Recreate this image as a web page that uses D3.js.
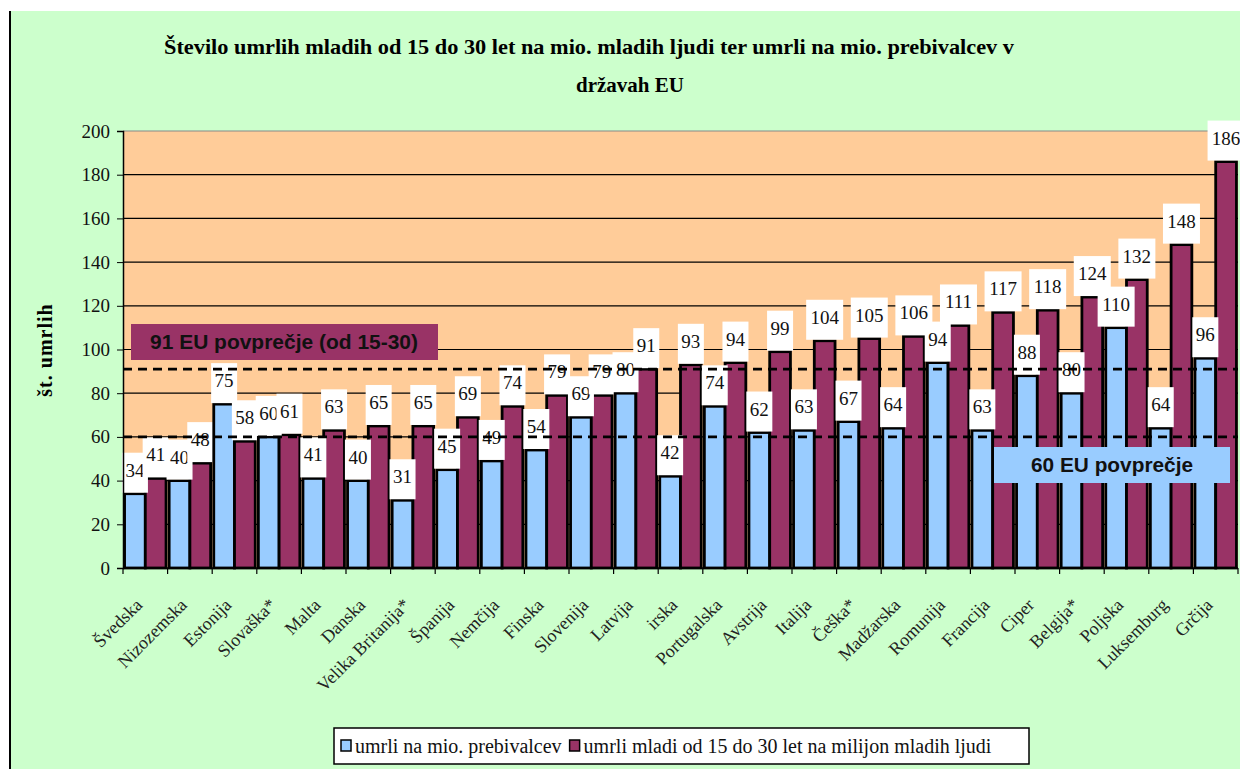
<!DOCTYPE html>
<html>
<head>
<meta charset="utf-8">
<script src="https://cdn.jsdelivr.net/npm/d3@7"></script>
<style>
  body { margin:0; background:#fff; }
</style>
</head>
<body>
<div id="chart"></div>
<script>
// drzave in vrednosti
const countries = ["Švedska","Nizozemska","Estonija","Slovaška*","Malta","Danska","Velika Britanija*","Španija","Nemčija","Finska","Slovenija","Latvija","irska","Portugalska","Avstrija","Italija","Češka*","Madžarska","Romunija","Francija","Ciper","Belgija*","Poljska","Luksemburg","Grčija"]
const perMio   = [34,40,75,60,41,40,31,45,49,54,69,80,42,74,62,63,67,64,94,63,88,80,110,64,96]
const youngMio = [41,48,58,61,63,65,65,69,74,79,79,91,93,94,99,104,105,106,111,117,118,124,132,148,186]
const seriesNames = ["umrli na mio. prebivalcev","umrli mladi od 15 do 30 let na milijon mladih ljudi"]
const yTicks = [0,20,40,60,80,100,120,140,160,180,200]
const avgYoung = 91, avgAll = 60

const SERIF = "Liberation Serif, Times New Roman, serif"
const SANS = "Liberation Sans, Arial, sans-serif"

function render(){
  let width = 1240, height = 769,
      margin = { top:131, left:123, right:2, bottom:201 },
      innerWidth = width - margin.left - margin.right,
      innerHeight = height - margin.top - margin.bottom

  const colors = ["#99CCFF","#993366"]
  const data = countries.map((c,i)=>({country:c, vals:[perMio[i], youngMio[i]]}))

  let svg = d3.select("#chart").append("svg").attr("width",width).attr("height",height)
  svg.append("rect").attr("x",10).attr("y",11).attr("width",width-10).attr("height",height-11).attr("fill","#CCFFCC")
  svg.append("line").attr("x1",10).attr("x2",10).attr("y1",11).attr("y2",height).attr("stroke","#000").attr("stroke-width",2)

  // naslov
  svg.append("text").attr("x",589).attr("y",54).attr("text-anchor","middle")
     .attr("font-family",SERIF).attr("font-size",21).attr("font-weight","bold")
     .attr("textLength",850).attr("lengthAdjust","spacingAndGlyphs")
     .text("Število umrlih mladih od 15 do 30 let na mio. mladih ljudi ter umrli na mio. prebivalcev v")
  svg.append("text").attr("x",630).attr("y",92).attr("text-anchor","middle")
     .attr("font-family",SERIF).attr("font-size",21).attr("font-weight","bold").text("državah EU")

  let xScale = d3.scaleBand().domain(countries).range([0,innerWidth]).paddingInner(0.07).paddingOuter(0.035)
  let xSub = d3.scaleBand().domain([0,1]).range([0,xScale.bandwidth()])
  let yScale = d3.scaleLinear().domain([0,200]).range([innerHeight,0])

  let g = svg.append("g").attr("transform",`translate(${margin.left},${margin.top})`)
  g.append("rect").attr("width",innerWidth).attr("height",innerHeight).attr("fill","#FFCC99")

  // mreza
  g.selectAll(".grid").data(yTicks.slice(1)).enter().append("line")
    .attr("x1",0).attr("x2",innerWidth).attr("y1",d=>yScale(d)).attr("y2",d=>yScale(d))
    .attr("stroke",d=>d===200?"#888":"#000").attr("stroke-width",1.2)

  // stolpci + oznake (po skupinah, da se prekrivajo kot v originalu)
  data.forEach(d=>{
    let gg = g.append("g").attr("transform",`translate(${xScale(d.country)},0)`)
    d.vals.forEach((v,k)=>{
      gg.append("rect").attr("x",xSub(k)).attr("y",yScale(v))
        .attr("width",xSub.bandwidth()).attr("height",innerHeight-yScale(v))
        .attr("fill",colors[k]).attr("stroke","#000").attr("stroke-width",2.8)
    })
    d.vals.forEach((v,k)=>{
      let w = String(v).length>2 ? 37 : 26
      let cx = xSub(k)+xSub.bandwidth()/2
      gg.append("rect").attr("x",cx-w/2).attr("y",yScale(v)-41).attr("width",w).attr("height",40).attr("fill","#fff")
      gg.append("text").attr("x",cx).attr("y",yScale(v)-17).attr("text-anchor","middle")
        .attr("font-family",SERIF).attr("font-size",19).attr("fill","#111").text(v)
    })
  })

  // povprecja
  ;[avgYoung,avgAll].forEach(a=>{
    g.append("line").attr("x1",0).attr("x2",innerWidth).attr("y1",yScale(a)).attr("y2",yScale(a))
     .attr("stroke","#000").attr("stroke-width",2.6).attr("stroke-dasharray","9,6")
  })

  // osi
  let yAxis = d3.axisLeft(yScale).tickValues(yTicks).tickSize(6).tickPadding(7)
  let ya = g.append("g").call(yAxis).attr("font-family",SERIF).attr("font-size",19)
  ya.select(".domain").attr("stroke","#000").attr("stroke-width",1.5)
  ya.selectAll("text").attr("fill","#111")

  let xa = g.append("g").attr("transform",`translate(0,${innerHeight})`)
  xa.append("line").attr("x1",0).attr("x2",innerWidth).attr("stroke","#000").attr("stroke-width",1.5)
  let step = innerWidth/countries.length
  xa.selectAll(".tk").data(d3.range(countries.length+1)).enter().append("line")
    .attr("x1",i=>i*step).attr("x2",i=>i*step).attr("y1",0).attr("y2",6).attr("stroke","#000").attr("stroke-width",1.2)
  xa.selectAll(".lbl").data(countries).enter().append("g")
    .attr("transform",d=>`translate(${xScale(d)+xScale.bandwidth()/2-2},38) rotate(-45)`)
    .append("text").attr("text-anchor","end")
    .attr("font-family",SERIF).attr("font-size",18).attr("fill","#222").text(d=>d)

  // os y naslov
  svg.append("g").attr("transform","translate(52,350) rotate(-90)")
     .append("text").attr("text-anchor","middle")
     .attr("font-family",SERIF).attr("font-size",20).attr("font-weight","bold").attr("letter-spacing",1).text("št. umrlih")

  // okvirji povprecij
  svg.append("rect").attr("x",131).attr("y",324).attr("width",307).attr("height",36).attr("fill","#993366")
  svg.append("text").attr("x",284).attr("y",349).attr("text-anchor","middle")
     .attr("font-family",SANS).attr("font-size",20).attr("font-weight","bold")
     .attr("textLength",268).attr("lengthAdjust","spacingAndGlyphs")
     .attr("fill","#111").text(`${avgYoung} EU povprečje (od 15-30)`)
  svg.append("rect").attr("x",994).attr("y",447).attr("width",236).attr("height",36).attr("fill","#99CCFF")
  svg.append("text").attr("x",1112).attr("y",472).attr("text-anchor","middle")
     .attr("font-family",SANS).attr("font-size",20).attr("font-weight","bold")
     .attr("textLength",162).attr("lengthAdjust","spacingAndGlyphs")
     .attr("fill","#111").text(`${avgAll} EU povprečje`)

  // legenda
  let lg = svg.append("g")
  lg.append("rect").attr("x",334).attr("y",728).attr("width",695).attr("height",36).attr("fill","#fff").attr("stroke","#000").attr("stroke-width",1.5)
  let lx = 341
  seriesNames.forEach((s,k)=>{
    lg.append("rect").attr("x",lx).attr("y",740).attr("width",10).attr("height",11).attr("fill",colors[k]).attr("stroke","#000").attr("stroke-width",1.5)
    let t = lg.append("text").attr("x",lx+14).attr("y",753)
      .attr("font-family",SERIF).attr("font-size",20).attr("fill","#111").text(s)
    lx += 14 + t.node().getComputedTextLength() + 8
  })
}
render()
</script>
</body>
</html>
